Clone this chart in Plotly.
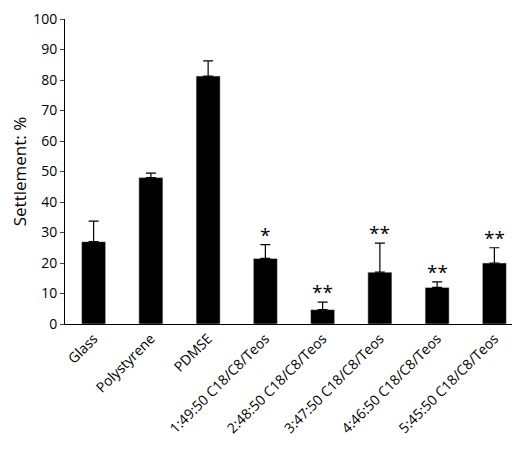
import plotly.graph_objects as go

categories = ["Glass", "Polystyrene", "PDMSE", "1:49:50 C18/C8/Teos", "2:48:50 C18/C8/Teos",
              "3:47:50 C18/C8/Teos", "4:46:50 C18/C8/Teos", "5:45:50 C18/C8/Teos"]
values = [27, 48, 81.3, 21.5, 4.7, 17, 12, 20]
errors = [6.7, 1.5, 5, 4.5, 2.5, 9.5, 1.8, 5]
stars = ["", "", "", "*", "**", "**", "**", "**"]

fig = go.Figure(go.Bar(x=categories, y=values, marker_color="black", width=0.42,
                       error_y=dict(type="data", array=errors, symmetric=False, arrayminus=[0]*8,
                                    color="black", thickness=1.2, width=5)))
for c, v, e, s in zip(categories, values, errors, stars):
    if s:
        fig.add_annotation(x=c, y=v + e, text=s, showarrow=False, yanchor="bottom", yshift=-5,
                           font=dict(size=19, color="black"))
fig.update_layout(width=520, height=450, margin=dict(l=57, r=5, t=11, b=134),
                  plot_bgcolor="white", paper_bgcolor="white", showlegend=False,
                  font=dict(family="Open Sans", size=14, color="black"))
fig.update_yaxes(range=[0, 100], dtick=10, showline=True, linecolor="black", ticks="outside",
                 ticklen=4, showgrid=False, title_text="Settlement: %", title_standoff=4,
                 automargin=False)
fig.update_xaxes(showline=True, linecolor="black", tickangle=-45, ticks="", automargin=False)
fig.write_html("out.html")
